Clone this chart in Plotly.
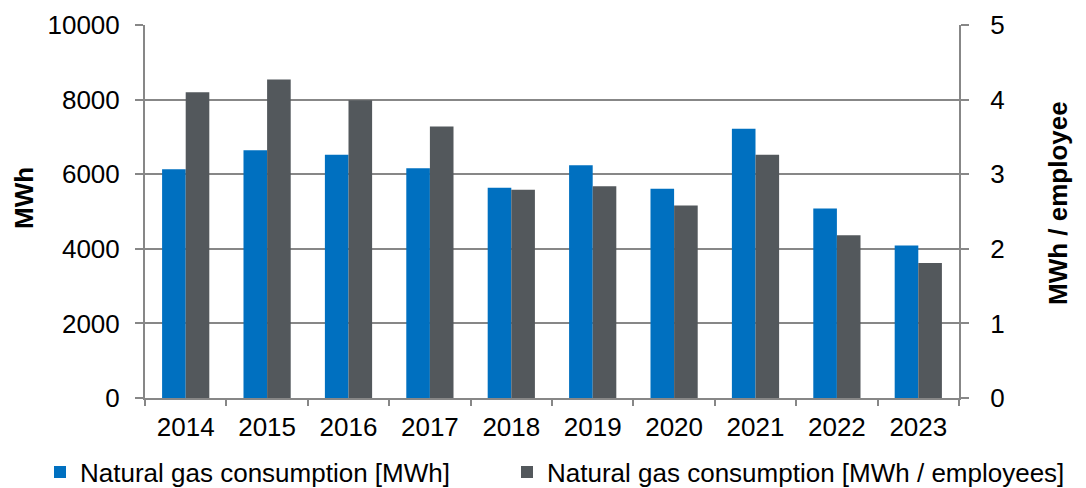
import plotly.graph_objects as go

years = ["2014", "2015", "2016", "2017", "2018", "2019", "2020", "2021", "2022", "2023"]
gas_mwh = [6130, 6640, 6520, 6160, 5640, 6240, 5610, 7220, 5080, 4090]
gas_per_employee = [4.10, 4.27, 3.99, 3.64, 2.79, 2.84, 2.58, 3.26, 2.18, 1.81]

name_mwh = "Natural gas consumption [MWh]"
name_emp = "Natural gas consumption [MWh / employees]"
left_title = "MWh"
right_title = "MWh / employee"

BLUE = "#0070C0"
GRAY = "#53585C"
GRID = "#878787"
FONT = "Arial, Liberation Sans, sans-serif"

# page has an 8px body margin; figure coordinates = page coordinates - 8
OFF = 8
W, H = 1086 - OFF, 488 - OFF
ML, MT = 145 - OFF, 25 - OFF
PW, PH = 814, 373
MR, MB = W - ML - PW, H - MT - PH


def px_x(page_x):
    return (page_x - OFF - ML) / PW


def px_y(page_y):
    return (MT + PH - (page_y - OFF)) / PH


fig = go.Figure()
fig.add_trace(go.Bar(
    x=years, y=gas_mwh, name=name_mwh, marker_color=BLUE,
    marker_line_width=0, width=0.29, offset=-0.29, yaxis="y", legend="legend",
))
fig.add_trace(go.Bar(
    x=years, y=gas_per_employee, name=name_emp, marker_color=GRAY,
    marker_line_width=0, width=0.29, offset=0.0, yaxis="y2", legend="legend2",
))

leg_common = dict(orientation="h", xanchor="left", y=px_y(472), yanchor="middle",
                  font=dict(size=26), itemwidth=30, bgcolor="rgba(0,0,0,0)")

fig.update_layout(
    width=W, height=H,
    margin=dict(l=ML, r=MR, t=MT, b=MB, pad=0, autoexpand=False),
    paper_bgcolor="white", plot_bgcolor="white",
    font=dict(family=FONT, size=26, color="black"),
    barmode="overlay",
    xaxis=dict(
        type="category", showline=True, linecolor=GRID, linewidth=2,
        ticks="outside", tickson="boundaries", ticklen=6, tickwidth=2, tickcolor=GRID,
        showgrid=False, tickfont=dict(size=26), ticklabelstandoff=5,
    ),
    yaxis=dict(
        range=[0, 10000], dtick=2000, tickformat="d", showline=True, linecolor=GRID, linewidth=2,
        ticks="outside", ticklen=8, tickwidth=2, tickcolor=GRID,
        showgrid=True, gridcolor=GRID, gridwidth=2, zeroline=False,
        tickfont=dict(size=26), ticklabelstandoff=10,
    ),
    yaxis2=dict(
        range=[0, 5], dtick=1, tickformat="d", overlaying="y", side="right",
        showline=True, linecolor=GRID, linewidth=2,
        ticks="outside", ticklen=8, tickwidth=2, tickcolor=GRID,
        showgrid=False, zeroline=False,
        tickfont=dict(size=26), ticklabelstandoff=16,
    ),
    showlegend=True,
    legend=dict(x=px_x(81 - 41), **leg_common),
    legend2=dict(x=px_x(548 - 41), **leg_common),
    annotations=[
        dict(text=f"<b>{left_title}</b>", textangle=-90, xref="paper", yref="paper",
             x=px_x(24), y=px_y(198), xanchor="center", yanchor="middle",
             showarrow=False, font=dict(size=26)),
        dict(text=f"<b>{right_title}</b>", textangle=-90, xref="paper", yref="paper",
             x=px_x(1058), y=px_y(203), xanchor="center", yanchor="middle",
             showarrow=False, font=dict(size=26)),
    ],
)

fig.write_html("out.html")
